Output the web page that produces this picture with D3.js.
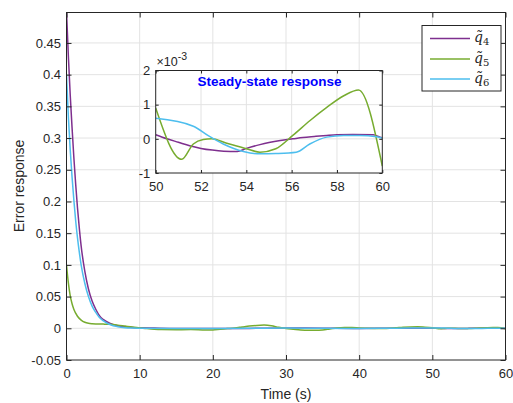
<!DOCTYPE html>
<html><head><meta charset="utf-8">
<script src="https://cdn.jsdelivr.net/npm/d3@7"></script>
<style>
body{margin:0;background:#fff}
svg{display:block}
text{font-family:"Liberation Sans",Arial,Helvetica,sans-serif;fill:#262626}
</style>
</head><body><svg id="c" width="513" height="403"></svg>
<script>
// ---------- data ----------
const seriesNames = ["4", "5", "6"];          // subscripts of q̃
const seriesColors = ["#7E2F8E", "#77AC30", "#4DBEEE"];

const tQ4 = [0,0.25,0.5,0.75,1,1.25,1.5,1.75,2,2.5,3,3.5,4,4.5,5,6,7,8,9,10,12,15,20,25,30,35,40,45,
  50,50.5,51,51.5,52,52.5,53,53.6,54,54.6,55,55.5,56.05,56.5,57,57.55,58,58.7,59.6,59.9,60];
const q4 = [0.5,0.43,0.37,0.318,0.27,0.228,0.19,0.158,0.13,0.09,0.062,0.043,0.03,0.02,0.014,0.0075,0.004,0.0023,0.0013,0.0008,0.0003,-0.0003,-0.0005,-0.0002,0.0003,0.0002,-0.0002,0.0001,
  0.00012,0.0,-0.0001,-0.0002,-0.00028,-0.00033,-0.00036,-0.00037,-0.00028,-0.00017,-0.00011,-0.00005,0.0,0.00004,0.00007,0.0001,0.00012,0.00013,0.00012,0.00005,0.00003];

const tQ5 = [0,0.25,0.5,0.75,1,1.5,2,2.5,3,3.5,4,5,6,7,8,9,10,11,12,13,15,17,19,20,21,22,23,24,25,26,27,28,29,30,31,32,33,34,35,36,37,38,39,40,41,43,45,46,48,49,
  50,51.15,51.66,52.1,52.47,53.1,54,54.6,55.3,56.05,56.8,57.55,58.3,58.95,60];
const q5 = [0.1,0.072,0.052,0.039,0.03,0.019,0.013,0.0095,0.0078,0.0071,0.0068,0.0066,0.0062,0.005,0.0035,0.002,0.0008,-0.0005,-0.0015,-0.002,-0.0022,-0.002,-0.0028,-0.0025,-0.0015,-0.0005,0.0005,0.002,0.0035,0.0045,0.005,0.004,0.0015,-0.0005,-0.0015,-0.0025,-0.003,-0.003,-0.0025,-0.001,0.0005,0.0012,0.0012,0.0005,0.0,-0.0005,0.0008,0.0018,0.0025,0.0018,
  0.0009,-0.0006,-0.00015,-0.00002,0.0,-0.00012,-0.00029,-0.00039,-0.00029,0.0001,0.00053,0.00092,0.00126,0.00143,-0.0008];

const tQ6 = [0,0.25,0.5,0.75,1,1.25,1.5,1.75,2,2.5,3,3.5,4,4.5,5,6,7,8,9,10,15,20,25,30,35,40,45,
  50,51.66,52.3,52.98,53.87,54.6,55.3,56.2,56.8,57.55,58.3,59.0,59.75,60];
const q6 = [0.4,0.335,0.283,0.24,0.203,0.17,0.143,0.12,0.1,0.071,0.05,0.035,0.025,0.017,0.012,0.0055,0.0025,0.001,0.0004,0.0002,-0.0002,-0.0004,0.0,0.0003,0.0,-0.0003,0.0002,
  0.0006,0.00037,0.0001,-0.00015,-0.00037,-0.00044,-0.00043,-0.00039,-0.00015,0.00005,0.0001,0.0001,0.00006,0.00002];

const xTicksMain = [0,10,20,30,40,50,60];
const yTicksMain = [-0.05,0,0.05,0.1,0.15,0.2,0.25,0.3,0.35,0.4,0.45];
const xTicksInset = [50,52,54,56,58,60];
const yTicksInset = [-0.001,0,0.001,0.002];

const xLabel = "Time (s)";
const yLabel = "Error response";
const insetTitle = "Steady-state response";

// ---------- drawing ----------
const svg = d3.select("#c");
const series = [
  {t: tQ4, v: q4}, {t: tQ5, v: q5}, {t: tQ6, v: q6}
].map((s, i) => ({name: seriesNames[i], color: seriesColors[i], pts: s.t.map((t, j) => [t, s.v[j]])}));

const fmt = v => String(+v.toFixed(3));
const axisColor = "#262626", gridColor = "#e3e3e3";
const FONT = '"Liberation Sans",Arial,sans-serif';

function drawAxes(g, x, y, xt, yt, xfmt, yfmt, tickLen, fs, clipId, lw, padX, padY) {
  const [x0, x1] = x.range(), [y0, y1] = y.range();
  g.append("rect").attr("x", x0).attr("y", y1).attr("width", x1 - x0).attr("height", y0 - y1).attr("fill", "#fff");
  g.append("g").selectAll("line").data(xt.filter(d => d > x.domain()[0] && d < x.domain()[1])).join("line")
    .attr("x1", d => x(d)).attr("x2", d => x(d)).attr("y1", y0).attr("y2", y1)
    .attr("stroke", gridColor).attr("stroke-width", 1);
  g.append("g").selectAll("line").data(yt.filter(d => d > y.domain()[0] + 1e-12 && d < y.domain()[1])).join("line")
    .attr("y1", d => y(d)).attr("y2", d => y(d)).attr("x1", x0).attr("x2", x1)
    .attr("stroke", gridColor).attr("stroke-width", 1);
  svg.select("defs").append("clipPath").attr("id", clipId).append("rect")
    .attr("x", x0).attr("y", y1).attr("width", x1 - x0).attr("height", y0 - y1);
  const line = d3.line().x(d => x(d[0])).y(d => y(d[1])).curve(d3.curveMonotoneX);
  const lg = g.append("g").attr("clip-path", `url(#${clipId})`);
  series.forEach(s => {
    const pts = s.pts.filter(d => d[0] >= x.domain()[0] - 1e-9);
    lg.append("path").attr("d", line(pts)).attr("fill", "none").attr("stroke", s.color).attr("stroke-width", lw);
  });
  const ax = d3.axisBottom(x).tickValues(xt).tickFormat(xfmt).tickSizeInner(-tickLen).tickSizeOuter(0).tickPadding(padX);
  const axT = d3.axisTop(x).tickValues(xt).tickFormat("").tickSizeInner(-tickLen).tickSizeOuter(0);
  const ay = d3.axisLeft(y).tickValues(yt).tickFormat(yfmt).tickSizeInner(-tickLen).tickSizeOuter(0).tickPadding(padY);
  const ayR = d3.axisRight(y).tickValues(yt).tickFormat("").tickSizeInner(-tickLen).tickSizeOuter(0);
  const style = sel => {
    sel.selectAll(".domain").remove();
    sel.selectAll("line").attr("stroke", axisColor);
    sel.selectAll("text").attr("fill", axisColor).style("font-size", fs + "px").style("font-family", FONT);
  };
  g.append("g").attr("transform", `translate(0,${y0})`).call(ax).call(style);
  g.append("g").attr("transform", `translate(0,${y1})`).call(axT).call(style);
  g.append("g").attr("transform", `translate(${x0},0)`).call(ay).call(style);
  g.append("g").attr("transform", `translate(${x1},0)`).call(ayR).call(style);
  g.append("rect").attr("x", x0).attr("y", y1).attr("width", x1 - x0).attr("height", y0 - y1)
    .attr("fill", "none").attr("stroke", axisColor).attr("stroke-width", 1);
}

svg.append("defs");

// main axes
const xM = d3.scaleLinear().domain([0, 60]).range([66.5, 505.5]);
const yM = d3.scaleLinear().domain([-0.05, 0.498]).range([360, 12.5]);
drawAxes(svg.append("g"), xM, yM, xTicksMain, yTicksMain, fmt, fmt, 5, 13, "clipM", 1.5, 9, 5.5);

svg.append("text").attr("x", 286).attr("y", 399).attr("text-anchor", "middle")
  .style("font-size", "14px").text(xLabel);
svg.append("text").attr("transform", "translate(24,186) rotate(-90)").attr("text-anchor", "middle")
  .style("font-size", "14px").text(yLabel);

// inset axes
const xI = d3.scaleLinear().domain([50, 60]).range([155.7, 382.3]);
const yI = d3.scaleLinear().domain([-0.001, 0.002]).range([173, 70.5]);
drawAxes(svg.append("g"), xI, yI, xTicksInset, yTicksInset, fmt, d => String(Math.round(d * 1000)), 3, 13, "clipI", 1.5, 9, 5.5);

svg.append("text").attr("x", 269.5).attr("y", 85.5).attr("text-anchor", "middle")
  .style("font-size", "13.5px").style("font-weight", "bold").style("fill", "#0000FF")
  .text(insetTitle);

const ex = svg.append("text").attr("x", 156.5).attr("y", 65.5).style("font-size", "12.5px");
ex.append("tspan").text("\u00D710");
ex.append("tspan").attr("dy", -6).style("font-size", "10.5px").text("-3");

// legend
const lgx = 422, lgy = 25.5, lgw = 79, lgh = 65.5;
const leg = svg.append("g");
leg.append("rect").attr("x", lgx).attr("y", lgy).attr("width", lgw).attr("height", lgh)
  .attr("fill", "#fff").attr("stroke", axisColor).attr("stroke-width", 1);
const ly = [38.5, 59, 79];
series.forEach((s, i) => {
  leg.append("line").attr("x1", 430).attr("x2", 470).attr("y1", ly[i]).attr("y2", ly[i])
    .attr("stroke", s.color).attr("stroke-width", 1.5);
  const t = leg.append("text").attr("x", 474).attr("y", ly[i] + 3.5)
    .style("font-family", '"DejaVu Serif","Liberation Serif",serif').attr("fill", "#262626");
  t.append("tspan").style("font-style", "italic").style("font-size", "14px").text("q\u0303");
  t.append("tspan").attr("dy", 3).style("font-size", "10px").text(s.name);
});
</script>
</body></html>
